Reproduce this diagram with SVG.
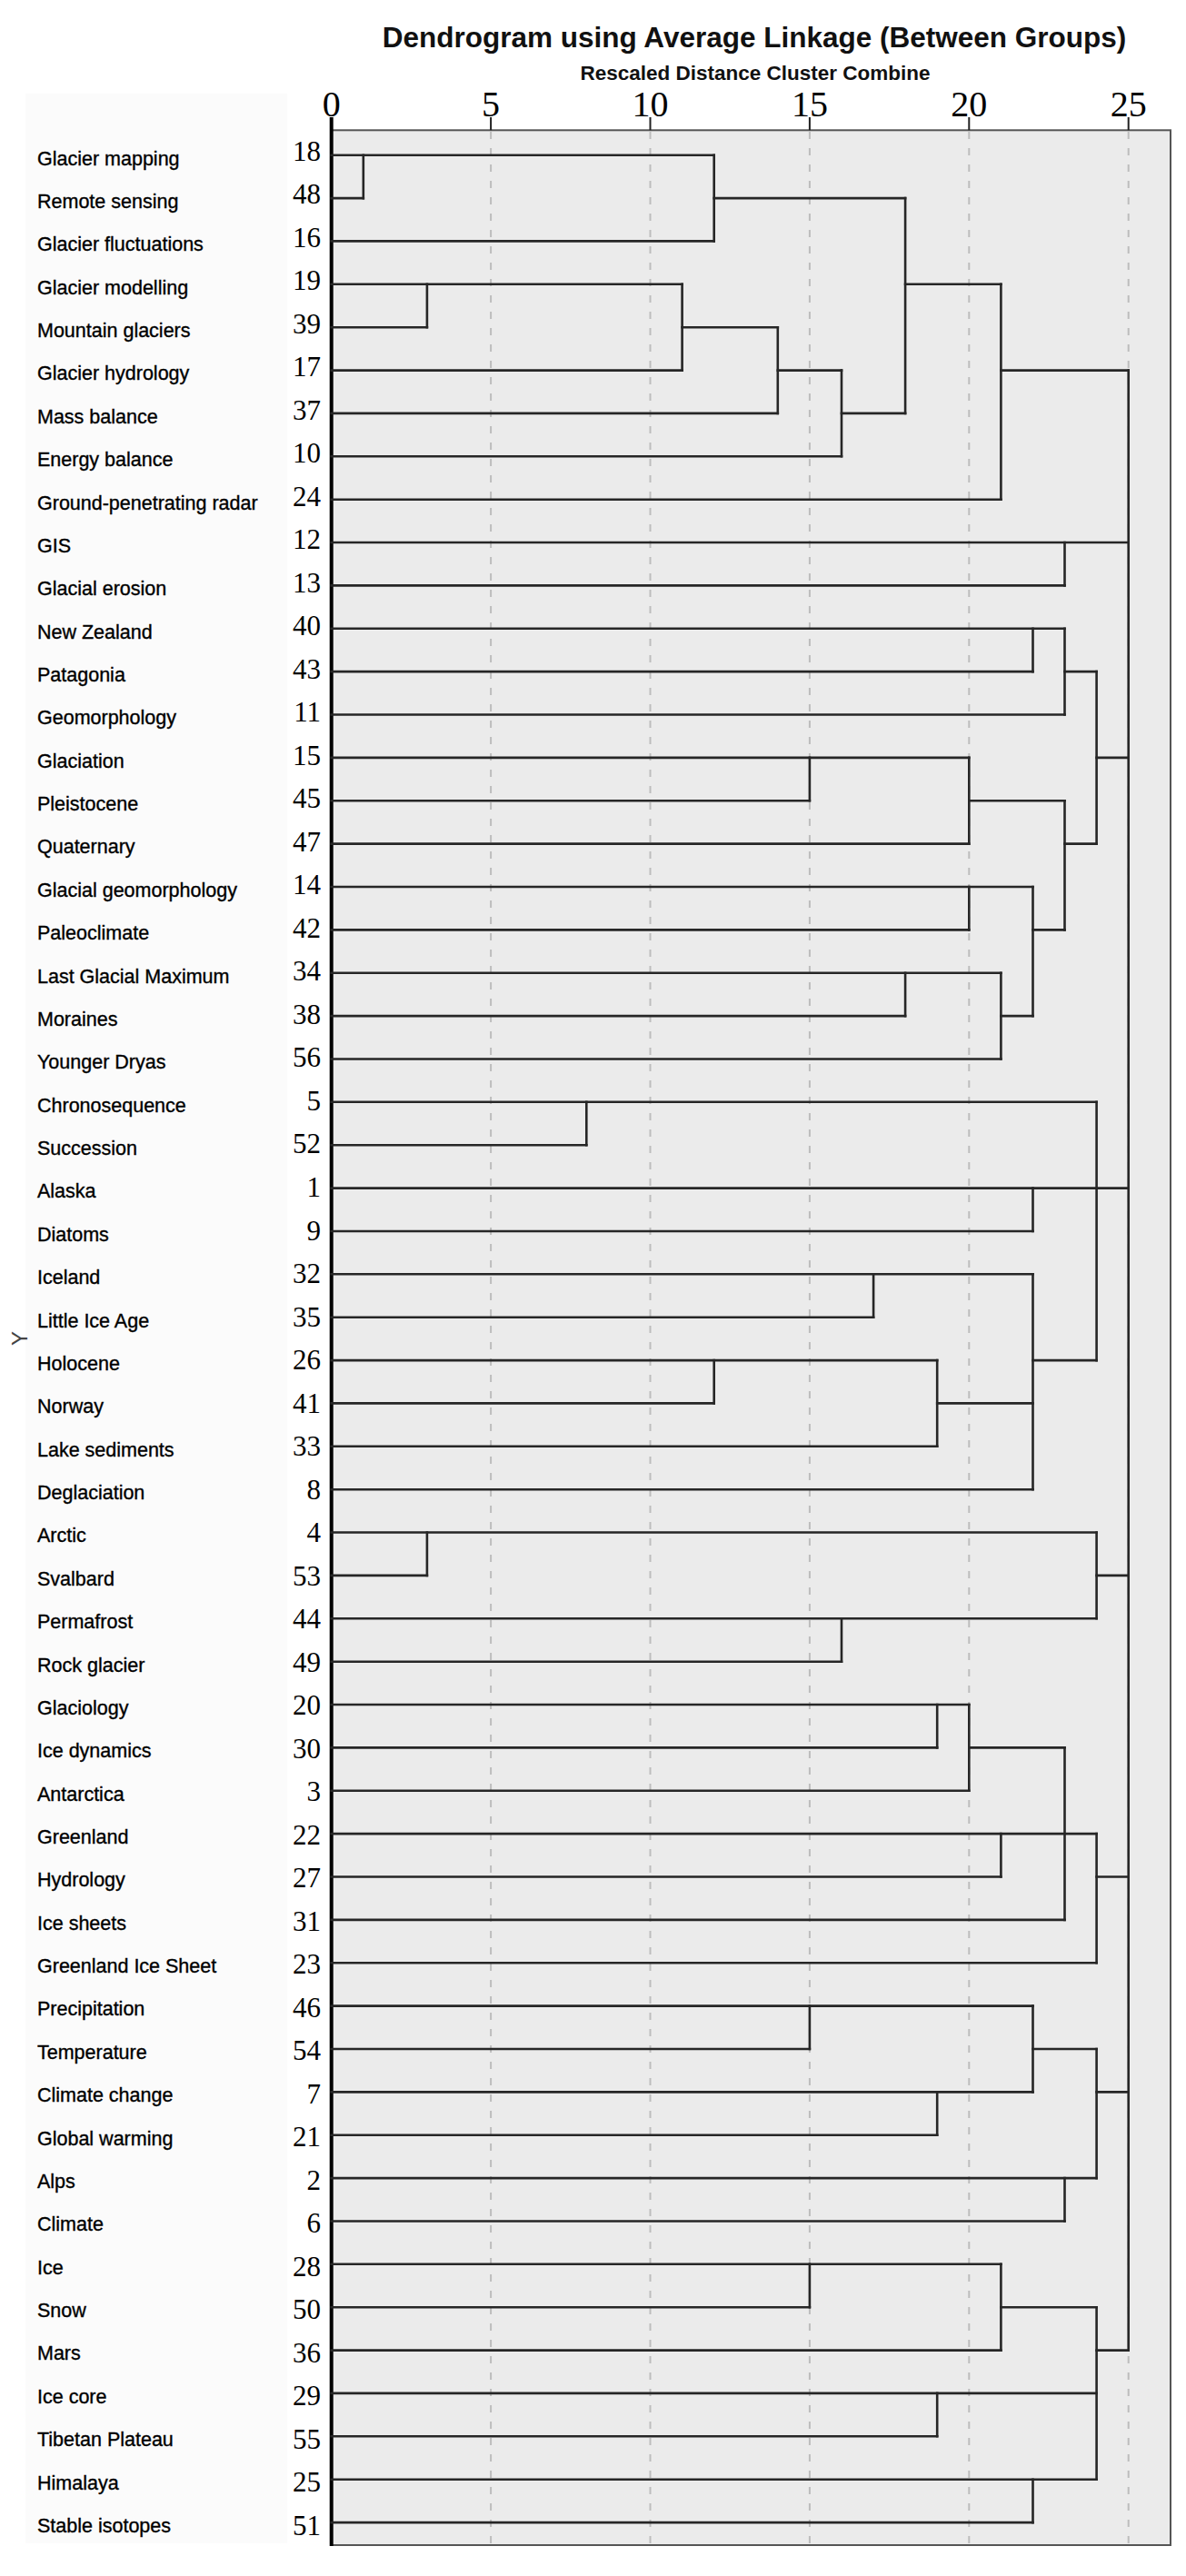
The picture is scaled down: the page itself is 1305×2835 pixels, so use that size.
<svg xmlns="http://www.w3.org/2000/svg" width="1305" height="2835" viewBox="0 0 1305 2835">
<style>
.lbl{font-family:"Liberation Sans",Arial,sans-serif;font-size:21.5px;fill:#000;stroke:#000;stroke-width:0.35}
.num{font-family:"Liberation Serif","Times New Roman",serif;font-size:31px;fill:#000;text-anchor:end}
.ax{font-family:"Liberation Serif","Times New Roman",serif;font-size:40px;fill:#000;text-anchor:middle}
.ttl{font-family:"Liberation Sans",Arial,sans-serif;font-weight:bold;fill:#111;text-anchor:middle}
.ln{stroke:#262626;stroke-width:2.6;fill:none;stroke-linecap:square}
.grid{stroke:#bdbdbd;stroke-width:2;stroke-dasharray:8 10;fill:none}
.tick{stroke:#222;stroke-width:2;fill:none}
</style>
<rect width="1305" height="2835" fill="#fff"/>
<rect x="28" y="103" width="288" height="2696" fill="#fbfbfb"/>
<g id="title">
<text class="ttl" x="830" y="52" font-size="31.5">Dendrogram using Average Linkage (Between Groups)</text>
<text class="ttl" x="831" y="87.7" font-size="22.5">Rescaled Distance Cluster Combine</text>
</g>
<g id="yaxis-label"><text transform="translate(30,1473) rotate(-90)" text-anchor="middle" font-family="Liberation Sans, Arial, sans-serif" font-size="24" fill="#444">Y</text></g>
<g id="plot">
<rect x="364.7" y="143.3" width="923.3" height="2657.7" fill="#ebebeb" stroke="#555" stroke-width="2"/>
<path class="grid" d="M540.1 145V2800M715.5 145V2800M890.9 145V2800M1066.3 145V2800M1241.7 145V2800"/>
<path class="tick" d="M540.1 129V143.3M715.5 129V143.3M890.9 129V143.3M1066.3 129V143.3M1241.7 129V143.3"/>
<line x1="364.7" y1="129" x2="364.7" y2="2802" stroke="#000" stroke-width="4"/>
<g id="axis-labels">
<text class="ax" x="364.7" y="127.5">0</text>
<text class="ax" x="540.1" y="127.5">5</text>
<text class="ax" x="715.5" y="127.5">10</text>
<text class="ax" x="890.9" y="127.5">15</text>
<text class="ax" x="1066.3" y="127.5">20</text>
<text class="ax" x="1241.7" y="127.5">25</text>
</g>
</g>
<g id="connectors" class="ln">
<path d="M364.7 170.7H785.7M364.7 218.1H399.8M364.7 265.4H785.7M364.7 312.8H750.6M364.7 360.2H469.9M364.7 407.6H750.6M364.7 454.9H855.8M364.7 502.3H926M364.7 549.7H1101.4M364.7 597H1241.7M364.7 644.4H1171.5M364.7 691.8H1171.5M364.7 739.1H1136.5M364.7 786.5H1171.5M364.7 833.9H1066.3M364.7 881.3H890.9M364.7 928.6H1066.3M364.7 976H1136.5M364.7 1023.4H1066.3M364.7 1070.7H1101.4M364.7 1118.1H996.1M364.7 1165.5H1101.4M364.7 1212.8H1206.6M364.7 1260.2H645.3M364.7 1307.6H1241.7M364.7 1355H1136.5M364.7 1402.3H1136.5M364.7 1449.7H961.1M364.7 1497.1H1031.2M364.7 1544.4H785.7M364.7 1591.8H1031.2M364.7 1639.2H1136.5M364.7 1686.5H1206.6M364.7 1733.9H469.9M364.7 1781.3H1206.6M364.7 1828.7H926M364.7 1876H1066.3M364.7 1923.4H1031.2M364.7 1970.8H1066.3M364.7 2018.1H1206.6M364.7 2065.5H1101.4M364.7 2112.9H1171.5M364.7 2160.2H1206.6M364.7 2207.6H1136.5M364.7 2255H890.9M364.7 2302.4H1136.5M364.7 2349.7H1031.2M364.7 2397.1H1206.6M364.7 2444.5H1171.5M364.7 2491.8H1101.4M364.7 2539.2H890.9M364.7 2586.6H1101.4M364.7 2633.9H1206.6M364.7 2681.3H1031.2M364.7 2728.7H1206.6M364.7 2776.1H1136.5"/>
<path d="M785.7 218.1H996.1M750.6 360.2H855.8M855.8 407.6H926M926 454.9H996.1M996.1 312.8H1101.4M1101.4 407.6H1241.7M1171.5 739.1H1206.6M1066.3 881.3H1171.5M1136.5 1023.4H1171.5M1101.4 1118.1H1136.5M1171.5 928.6H1206.6M1206.6 833.9H1241.7M1136.5 1497.1H1206.6M1031.2 1544.4H1136.5M1206.6 1733.9H1241.7M1066.3 1923.4H1171.5M1206.6 2065.5H1241.7M1136.5 2255H1206.6M1206.6 2302.4H1241.7M1101.4 2539.2H1206.6M1206.6 2586.6H1241.7"/>
<path d="M399.8 170.7V218.1M785.7 170.7V265.4M469.9 312.8V360.2M750.6 312.8V407.6M855.8 360.2V454.9M926 407.6V502.3M996.1 218.1V454.9M1101.4 312.8V549.7M1171.5 597V644.4M1241.7 407.6V2586.6M1136.5 691.8V739.1M1171.5 691.8V786.5M890.9 833.9V881.3M1066.3 833.9V928.6M1066.3 976V1023.4M996.1 1070.7V1118.1M1101.4 1070.7V1165.5M1136.5 976V1118.1M1171.5 881.3V1023.4M1206.6 739.1V928.6M645.3 1212.8V1260.2M1136.5 1307.6V1355M961.1 1402.3V1449.7M785.7 1497.1V1544.4M1031.2 1497.1V1591.8M1136.5 1402.3V1639.2M1206.6 1212.8V1497.1M469.9 1686.5V1733.9M926 1781.3V1828.7M1206.6 1686.5V1781.3M1031.2 1876V1923.4M1066.3 1876V1970.8M1101.4 2018.1V2065.5M1171.5 1923.4V2112.9M1206.6 2018.1V2160.2M890.9 2207.6V2255M1031.2 2302.4V2349.7M1136.5 2207.6V2302.4M1171.5 2397.1V2444.5M1206.6 2255V2397.1M890.9 2491.8V2539.2M1101.4 2491.8V2586.6M1031.2 2633.9V2681.3M1136.5 2728.7V2776.1M1206.6 2539.2V2728.7"/>
</g>
<g id="nodes">
<g id="n18"><text class="lbl" x="41" y="181.5">Glacier mapping</text><text class="num" x="353" y="176.7">18</text></g>
<g id="n48"><text class="lbl" x="41" y="228.9">Remote sensing</text><text class="num" x="353" y="224.2">48</text></g>
<g id="n16"><text class="lbl" x="41" y="276.2">Glacier fluctuations</text><text class="num" x="353" y="271.7">16</text></g>
<g id="n19"><text class="lbl" x="41" y="323.6">Glacier modelling</text><text class="num" x="353" y="319.2">19</text></g>
<g id="n39"><text class="lbl" x="41" y="371.0">Mountain glaciers</text><text class="num" x="353" y="366.7">39</text></g>
<g id="n17"><text class="lbl" x="41" y="418.4">Glacier hydrology</text><text class="num" x="353" y="414.3">17</text></g>
<g id="n37"><text class="lbl" x="41" y="465.7">Mass balance</text><text class="num" x="353" y="461.8">37</text></g>
<g id="n10"><text class="lbl" x="41" y="513.1">Energy balance</text><text class="num" x="353" y="509.3">10</text></g>
<g id="n24"><text class="lbl" x="41" y="560.5">Ground-penetrating radar</text><text class="num" x="353" y="556.8">24</text></g>
<g id="n12"><text class="lbl" x="41" y="607.8">GIS</text><text class="num" x="353" y="604.3">12</text></g>
<g id="n13"><text class="lbl" x="41" y="655.2">Glacial erosion</text><text class="num" x="353" y="651.8">13</text></g>
<g id="n40"><text class="lbl" x="41" y="702.6">New Zealand</text><text class="num" x="353" y="699.3">40</text></g>
<g id="n43"><text class="lbl" x="41" y="749.9">Patagonia</text><text class="num" x="353" y="746.8">43</text></g>
<g id="n11"><text class="lbl" x="41" y="797.3">Geomorphology</text><text class="num" x="353" y="794.3">11</text></g>
<g id="n15"><text class="lbl" x="41" y="844.7">Glaciation</text><text class="num" x="353" y="841.8">15</text></g>
<g id="n45"><text class="lbl" x="41" y="892.1">Pleistocene</text><text class="num" x="353" y="889.4">45</text></g>
<g id="n47"><text class="lbl" x="41" y="939.4">Quaternary</text><text class="num" x="353" y="936.9">47</text></g>
<g id="n14"><text class="lbl" x="41" y="986.8">Glacial geomorphology</text><text class="num" x="353" y="984.4">14</text></g>
<g id="n42"><text class="lbl" x="41" y="1034.2">Paleoclimate</text><text class="num" x="353" y="1031.9">42</text></g>
<g id="n34"><text class="lbl" x="41" y="1081.5">Last Glacial Maximum</text><text class="num" x="353" y="1079.4">34</text></g>
<g id="n38"><text class="lbl" x="41" y="1128.9">Moraines</text><text class="num" x="353" y="1126.9">38</text></g>
<g id="n56"><text class="lbl" x="41" y="1176.3">Younger Dryas</text><text class="num" x="353" y="1174.4">56</text></g>
<g id="n5"><text class="lbl" x="41" y="1223.6">Chronosequence</text><text class="num" x="353" y="1221.9">5</text></g>
<g id="n52"><text class="lbl" x="41" y="1271.0">Succession</text><text class="num" x="353" y="1269.4">52</text></g>
<g id="n1"><text class="lbl" x="41" y="1318.4">Alaska</text><text class="num" x="353" y="1316.9">1</text></g>
<g id="n9"><text class="lbl" x="41" y="1365.8">Diatoms</text><text class="num" x="353" y="1364.5">9</text></g>
<g id="n32"><text class="lbl" x="41" y="1413.1">Iceland</text><text class="num" x="353" y="1412.0">32</text></g>
<g id="n35"><text class="lbl" x="41" y="1460.5">Little Ice Age</text><text class="num" x="353" y="1459.5">35</text></g>
<g id="n26"><text class="lbl" x="41" y="1507.9">Holocene</text><text class="num" x="353" y="1507.0">26</text></g>
<g id="n41"><text class="lbl" x="41" y="1555.2">Norway</text><text class="num" x="353" y="1554.5">41</text></g>
<g id="n33"><text class="lbl" x="41" y="1602.6">Lake sediments</text><text class="num" x="353" y="1602.0">33</text></g>
<g id="n8"><text class="lbl" x="41" y="1650.0">Deglaciation</text><text class="num" x="353" y="1649.5">8</text></g>
<g id="n4"><text class="lbl" x="41" y="1697.3">Arctic</text><text class="num" x="353" y="1697.0">4</text></g>
<g id="n53"><text class="lbl" x="41" y="1744.7">Svalbard</text><text class="num" x="353" y="1744.5">53</text></g>
<g id="n44"><text class="lbl" x="41" y="1792.1">Permafrost</text><text class="num" x="353" y="1792.0">44</text></g>
<g id="n49"><text class="lbl" x="41" y="1839.5">Rock glacier</text><text class="num" x="353" y="1839.6">49</text></g>
<g id="n20"><text class="lbl" x="41" y="1886.8">Glaciology</text><text class="num" x="353" y="1887.1">20</text></g>
<g id="n30"><text class="lbl" x="41" y="1934.2">Ice dynamics</text><text class="num" x="353" y="1934.6">30</text></g>
<g id="n3"><text class="lbl" x="41" y="1981.6">Antarctica</text><text class="num" x="353" y="1982.1">3</text></g>
<g id="n22"><text class="lbl" x="41" y="2028.9">Greenland</text><text class="num" x="353" y="2029.6">22</text></g>
<g id="n27"><text class="lbl" x="41" y="2076.3">Hydrology</text><text class="num" x="353" y="2077.1">27</text></g>
<g id="n31"><text class="lbl" x="41" y="2123.7">Ice sheets</text><text class="num" x="353" y="2124.6">31</text></g>
<g id="n23"><text class="lbl" x="41" y="2171.0">Greenland Ice Sheet</text><text class="num" x="353" y="2172.1">23</text></g>
<g id="n46"><text class="lbl" x="41" y="2218.4">Precipitation</text><text class="num" x="353" y="2219.6">46</text></g>
<g id="n54"><text class="lbl" x="41" y="2265.8">Temperature</text><text class="num" x="353" y="2267.1">54</text></g>
<g id="n7"><text class="lbl" x="41" y="2313.2">Climate change</text><text class="num" x="353" y="2314.7">7</text></g>
<g id="n21"><text class="lbl" x="41" y="2360.5">Global warming</text><text class="num" x="353" y="2362.2">21</text></g>
<g id="n2"><text class="lbl" x="41" y="2407.9">Alps</text><text class="num" x="353" y="2409.7">2</text></g>
<g id="n6"><text class="lbl" x="41" y="2455.3">Climate</text><text class="num" x="353" y="2457.2">6</text></g>
<g id="n28"><text class="lbl" x="41" y="2502.6">Ice</text><text class="num" x="353" y="2504.7">28</text></g>
<g id="n50"><text class="lbl" x="41" y="2550.0">Snow</text><text class="num" x="353" y="2552.2">50</text></g>
<g id="n36"><text class="lbl" x="41" y="2597.4">Mars</text><text class="num" x="353" y="2599.7">36</text></g>
<g id="n29"><text class="lbl" x="41" y="2644.7">Ice core</text><text class="num" x="353" y="2647.2">29</text></g>
<g id="n55"><text class="lbl" x="41" y="2692.1">Tibetan Plateau</text><text class="num" x="353" y="2694.7">55</text></g>
<g id="n25"><text class="lbl" x="41" y="2739.5">Himalaya</text><text class="num" x="353" y="2742.2">25</text></g>
<g id="n51"><text class="lbl" x="41" y="2786.9">Stable isotopes</text><text class="num" x="353" y="2789.7">51</text></g>
</g>
</svg>
